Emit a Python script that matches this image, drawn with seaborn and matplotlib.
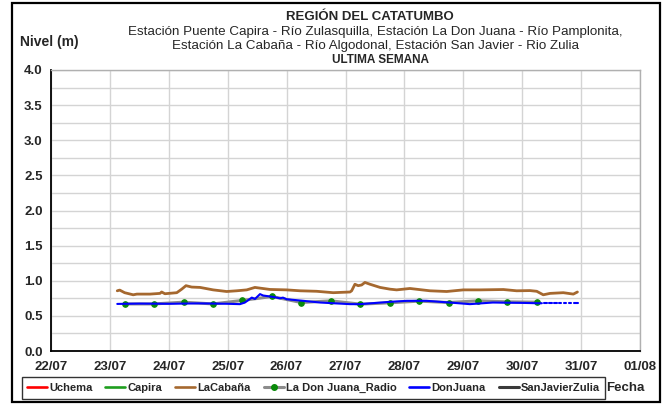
import matplotlib
matplotlib.use("Agg")
import matplotlib.pyplot as plt
import matplotlib.dates as mdates
from matplotlib.lines import Line2D
from matplotlib.patches import Rectangle
from matplotlib.ticker import MultipleLocator, FormatStrFormatter
import numpy as np
import pandas as pd
import seaborn as sns

# ---------------------------------------------------------------- texts
TITLE = "REGIÓN DEL CATATUMBO"
SUBTITLE = [
    "Estación Puente Capira - Río Zulasquilla, Estación La Don Juana - Río Pamplonita,",
    "Estación La Cabaña - Río Algodonal, Estación San Javier - Rio Zulia",
]
PERIOD = "ULTIMA SEMANA"
Y_LABEL = "Nivel (m)"
X_LABEL = "Fecha"

series_names = ["Uchema", "Capira", "LaCabaña", "La Don Juana_Radio", "DonJuana", "SanJavierZulia"]

# ---------------------------------------------------------------- data (m)
cabana_time = [
    "2024-07-23 03:00", "2024-07-23 04:00", "2024-07-23 06:00", "2024-07-23 09:30",
    "2024-07-23 11:00", "2024-07-23 16:20", "2024-07-23 20:25", "2024-07-23 21:05",
    "2024-07-23 22:25", "2024-07-24 03:15", "2024-07-24 05:15", "2024-07-24 07:00",
    "2024-07-24 09:20", "2024-07-24 12:45", "2024-07-24 18:05", "2024-07-24 23:35",
    "2024-07-25 03:40", "2024-07-25 07:45", "2024-07-25 11:05", "2024-07-25 13:10",
    "2024-07-25 17:15", "2024-07-26 00:00", "2024-07-26 05:30", "2024-07-26 12:15",
    "2024-07-26 19:00", "2024-07-27 01:50", "2024-07-27 02:30", "2024-07-27 03:50",
    "2024-07-27 05:10", "2024-07-27 06:35", "2024-07-27 07:55", "2024-07-27 10:00",
    "2024-07-27 14:05", "2024-07-27 18:10", "2024-07-27 20:50", "2024-07-28 02:15",
    "2024-07-28 10:25", "2024-07-28 17:15", "2024-07-29 00:00", "2024-07-29 06:50",
    "2024-07-29 16:20", "2024-07-29 21:45", "2024-07-30 03:10", "2024-07-30 05:55",
    "2024-07-30 08:35", "2024-07-30 11:20", "2024-07-30 16:45", "2024-07-30 20:50",
    "2024-07-30 22:30",
]
cabana_level = [
    0.857, 0.867, 0.830, 0.800, 0.810, 0.810, 0.820, 0.840,
    0.815, 0.830, 0.880, 0.930, 0.910, 0.905, 0.870, 0.847,
    0.857, 0.870, 0.905, 0.895, 0.876, 0.870, 0.857, 0.850,
    0.830, 0.840, 0.857, 0.950, 0.930, 0.940, 0.976, 0.950,
    0.905, 0.880, 0.870, 0.890, 0.857, 0.847, 0.870, 0.870,
    0.875, 0.857, 0.860, 0.850, 0.800, 0.820, 0.830, 0.810,
    0.840,
]

# La Don Juana radio readings (06:00 and 18:00)
radio_time = [
    "2024-07-23 06:00", "2024-07-23 18:00", "2024-07-24 06:00", "2024-07-24 18:00",
    "2024-07-25 06:00", "2024-07-25 18:00", "2024-07-26 06:00", "2024-07-26 18:00",
    "2024-07-27 06:00", "2024-07-27 18:00", "2024-07-28 06:00", "2024-07-28 18:00",
    "2024-07-29 06:00", "2024-07-29 18:00", "2024-07-30 06:00",
]
radio_level = [
    0.670, 0.670, 0.695, 0.670, 0.720, 0.776, 0.690, 0.714,
    0.667, 0.686, 0.710, 0.690, 0.714, 0.700, 0.695,
]

# La Don Juana automatic station (None = missing reading)
donjuana_time = [
    "2024-07-23 03:00", "2024-07-23 12:00", "2024-07-24 00:00", "2024-07-24 12:00",
    "2024-07-25 00:00", "2024-07-25 05:00", "2024-07-25 07:00", "2024-07-25 09:50",
    "2024-07-25 11:05", "2024-07-25 13:10", "2024-07-25 14:25", "2024-07-25 17:15",
    "2024-07-25 19:15", "2024-07-25 21:20", "2024-07-25 22:30", "2024-07-26 00:00",
    "2024-07-26 06:50", "2024-07-26 13:40", "2024-07-27 01:50", "2024-07-27 06:00",
    "2024-07-27 18:10", "2024-07-28 01:00", "2024-07-28 09:05", "2024-07-28 18:30",
    "2024-07-29 02:40", "2024-07-29 12:00", "2024-07-30 00:00", "2024-07-30 06:00",
    "2024-07-30 07:00", "2024-07-30 08:00", "2024-07-30 08:30", "2024-07-30 09:00",
    "2024-07-30 10:00", "2024-07-30 10:30", "2024-07-30 11:00", "2024-07-30 12:00",
    "2024-07-30 12:30", "2024-07-30 13:00", "2024-07-30 14:00", "2024-07-30 14:30",
    "2024-07-30 15:00", "2024-07-30 16:00", "2024-07-30 16:30", "2024-07-30 17:00",
    "2024-07-30 18:00", "2024-07-30 18:30", "2024-07-30 19:00", "2024-07-30 20:00",
    "2024-07-30 20:30", "2024-07-30 21:00", "2024-07-30 22:40",
]
donjuana_level = [
    0.670, 0.675, 0.672, 0.678, 0.672, 0.667, 0.690, 0.760,
    0.740, 0.810, 0.790, 0.776, 0.765, 0.750, 0.760, 0.737,
    0.714, 0.690, 0.667, 0.667, 0.700, 0.714, 0.714, 0.690,
    0.667, 0.690, 0.685, 0.680, 0.680, 0.680, None, 0.678,
    0.678, None, 0.680, 0.680, None, 0.678, 0.678, None,
    0.680, 0.680, None, 0.682, 0.682, None, 0.684, 0.684,
    None, 0.686, 0.686,
]

# ---------------------------------------------------------------- tables
cabana = pd.DataFrame({"fecha": pd.to_datetime(cabana_time), "nivel": cabana_level})
radio = pd.DataFrame({"fecha": pd.to_datetime(radio_time), "nivel": radio_level})
donjuana = pd.DataFrame({"fecha": pd.to_datetime(donjuana_time),
                         "nivel": pd.to_numeric(pd.Series(donjuana_level, dtype="object"))})
donjuana["tramo"] = donjuana["nivel"].isna().cumsum()
donjuana = donjuana.dropna()

# ---------------------------------------------------------------- style
sns.set_theme(style="white")
plt.rcParams["font.family"] = ["Liberation Sans", "DejaVu Sans"]

RED = "#ff0000"
GREEN = "#1e9e1e"
BROWN = "#a5682f"
GREY = "#8c8c8c"
MARKER_GREEN = "#0a8a0a"
BLUE = "#0000ff"
DARK = "#3a3a3a"
GRID = "#d4d4d4"

fig = plt.figure(figsize=(6.72, 4.05), dpi=100)
ax = fig.add_axes([51 / 672, 1 - 351 / 405, (640 - 51) / 672, (351 - 70) / 405])

sns.lineplot(data=cabana, x="fecha", y="nivel", ax=ax, color=BROWN, lw=2.0, zorder=3)
sns.lineplot(data=radio, x="fecha", y="nivel", ax=ax, color=GREY, lw=2.2, zorder=4,
             marker="o", markersize=4, markerfacecolor=MARKER_GREEN,
             markeredgecolor=MARKER_GREEN)
sns.lineplot(data=donjuana, x="fecha", y="nivel", units="tramo", estimator=None,
             ax=ax, color=BLUE, lw=1.5, zorder=5)

# ---------------------------------------------------------------- axes
ax.set_xlim(pd.Timestamp("2024-07-22"), pd.Timestamp("2024-08-01"))
ax.set_ylim(0, 4.0)
ax.xaxis.set_major_locator(mdates.DayLocator())
ax.xaxis.set_major_formatter(mdates.DateFormatter("%d/%m"))
ax.yaxis.set_major_locator(MultipleLocator(0.5))
ax.yaxis.set_minor_locator(MultipleLocator(0.25))
ax.yaxis.set_major_formatter(FormatStrFormatter("%.1f"))
ax.set_xlabel("")
ax.set_ylabel("")

ax.grid(True, which="major", axis="both", color=GRID, lw=1.0)
ax.grid(True, which="minor", axis="y", color=GRID, lw=1.0)
ax.set_axisbelow(True)

for side in ("left", "bottom"):
    ax.spines[side].set_color("black")
    ax.spines[side].set_linewidth(1.3)
for side in ("top", "right"):
    ax.spines[side].set_color("#b0b0b0")
    ax.spines[side].set_linewidth(1.0)

ax.tick_params(axis="both", which="major", direction="out", length=4, width=1,
               color="black", labelsize=9.5, pad=2)
ax.tick_params(axis="x", which="major", pad=3)
ax.tick_params(axis="y", which="minor", length=0)
for lab in ax.get_xticklabels() + ax.get_yticklabels():
    lab.set_fontweight("bold")

# ---------------------------------------------------------------- texts
fig.text(370 / 672, 1 - 17 / 405, TITLE, ha="center", va="center",
         fontsize=9.5, fontweight="bold")
fig.text(375 / 672, 1 - 32 / 405, SUBTITLE[0], ha="center", va="center", fontsize=9.6)
fig.text(375 / 672, 1 - 46 / 405, SUBTITLE[1], ha="center", va="center", fontsize=9.6)
fig.text(380 / 672, 1 - 60 / 405, PERIOD, ha="center", va="center",
         fontsize=8.5, fontweight="bold")
fig.text(20 / 672, 1 - 42 / 405, Y_LABEL, ha="left", va="center",
         fontsize=10, fontweight="bold")
fig.text(625 / 672, 1 - 388 / 405, X_LABEL, ha="center", va="center",
         fontsize=9.5, fontweight="bold")

# ---------------------------------------------------------------- legend
handles = [
    Line2D([], [], color=RED, lw=1.9),
    Line2D([], [], color=GREEN, lw=1.9),
    Line2D([], [], color=BROWN, lw=1.9),
    Line2D([], [], color=GREY, lw=2.2, marker="o", markersize=4,
           markerfacecolor=MARKER_GREEN, markeredgecolor=MARKER_GREEN),
    Line2D([], [], color=BLUE, lw=1.9),
    Line2D([], [], color=DARK, lw=2.2),
]
leg = fig.legend(handles, series_names, loc="center", ncol=6,
                 bbox_to_anchor=(313.5 / 672, 1 - 388 / 405),
                 prop={"size": 8, "weight": "bold"}, frameon=True, fancybox=False,
                 edgecolor="#333333", framealpha=1, handlelength=1.8,
                 handletextpad=0.2, columnspacing=1.15, borderpad=0.5,
                 borderaxespad=0)
leg.get_frame().set_linewidth(1.0)

# figure frame
fig.patches.append(Rectangle((11.5 / 672, 1 - 402 / 405), (660 - 11.5) / 672,
                             (402 - 3) / 405, transform=fig.transFigure,
                             fill=False, edgecolor="black", lw=1.6))

fig.savefig("out.png", dpi=100)
